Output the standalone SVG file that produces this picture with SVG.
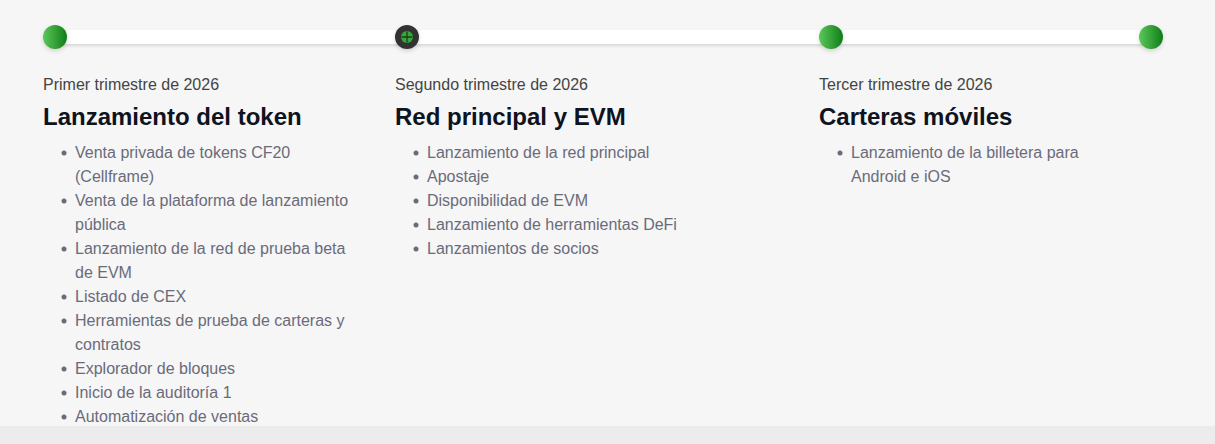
<svg xmlns="http://www.w3.org/2000/svg" width="1215" height="444" viewBox="0 0 1215 444">
<defs>
<linearGradient id="g" x1="0" y1="0" x2="1" y2="0">
<stop offset="0" stop-color="#5ac85a"/>
<stop offset="1" stop-color="#117d17"/>
</linearGradient>
<filter id="sh" x="-5%" y="-50%" width="110%" height="250%">
<feDropShadow dx="0" dy="2" stdDeviation="1.5" flood-color="#000" flood-opacity="0.12"/>
</filter>
<filter id="csh" x="-50%" y="-50%" width="200%" height="200%">
<feDropShadow dx="0" dy="2" stdDeviation="2" flood-color="#000" flood-opacity="0.15"/>
</filter>
<style>
.sub{font-family:"Liberation Sans",Arial,sans-serif;font-size:16px;fill:#444}
.ttl{font-family:"Liberation Sans",Arial,sans-serif;font-size:24px;font-weight:bold;fill:#0e1320}
.it{font-family:"Liberation Sans",Arial,sans-serif;font-size:16px;fill:#6a6b7a}
.bul{fill:#6a6b7a}
</style>
</defs>
<rect width="1215" height="444" fill="#f6f6f6"/>
<rect y="426" width="1215" height="18" fill="#ececec"/>
<g id="connectors">
<rect x="55" y="30" width="1096" height="14" fill="#ffffff" filter="url(#sh)"/>
</g>
<g id="m1"><circle cx="55" cy="37" r="12" fill="url(#g)" filter="url(#csh)"/></g>
<g id="m2">
<circle cx="407" cy="37" r="12" fill="#333333" filter="url(#csh)"/>
<circle cx="407" cy="37" r="6" fill="#35a83a"/>
<path d="M407 31.5V42.5M401.5 37H412.5" stroke="#1d3d1f" stroke-width="1.3"/>
</g>
<g id="m3"><circle cx="831" cy="37" r="12" fill="url(#g)" filter="url(#csh)"/></g>
<g id="m4"><circle cx="1151" cy="37" r="12" fill="url(#g)" filter="url(#csh)"/></g>

<g id="col1">
<text class="sub" x="43" y="90">Primer trimestre de 2026</text>
<text class="ttl" x="43" y="125">Lanzamiento del token</text>
<g class="bul">
<circle cx="64" cy="153" r="2.5"/><circle cx="64" cy="201" r="2.5"/><circle cx="64" cy="249" r="2.5"/><circle cx="64" cy="297" r="2.5"/><circle cx="64" cy="321" r="2.5"/><circle cx="64" cy="369" r="2.5"/><circle cx="64" cy="393" r="2.5"/><circle cx="64" cy="417" r="2.5"/>
</g>
<text class="it" x="75" y="158">Venta privada de tokens CF20</text>
<text class="it" x="75" y="182">(Cellframe)</text>
<text class="it" x="75" y="206">Venta de la plataforma de lanzamiento</text>
<text class="it" x="75" y="230">pública</text>
<text class="it" x="75" y="254">Lanzamiento de la red de prueba beta</text>
<text class="it" x="75" y="278">de EVM</text>
<text class="it" x="75" y="302">Listado de CEX</text>
<text class="it" x="75" y="326">Herramientas de prueba de carteras y</text>
<text class="it" x="75" y="350">contratos</text>
<text class="it" x="75" y="374">Explorador de bloques</text>
<text class="it" x="75" y="398">Inicio de la auditoría 1</text>
<text class="it" x="75" y="422">Automatización de ventas</text>
</g>

<g id="col2">
<text class="sub" x="395" y="90">Segundo trimestre de 2026</text>
<text class="ttl" x="395" y="125">Red principal y EVM</text>
<g class="bul">
<circle cx="416" cy="153" r="2.5"/><circle cx="416" cy="177" r="2.5"/><circle cx="416" cy="201" r="2.5"/><circle cx="416" cy="225" r="2.5"/><circle cx="416" cy="249" r="2.5"/>
</g>
<text class="it" x="427" y="158">Lanzamiento de la red principal</text>
<text class="it" x="427" y="182">Apostaje</text>
<text class="it" x="427" y="206">Disponibilidad de EVM</text>
<text class="it" x="427" y="230">Lanzamiento de herramientas DeFi</text>
<text class="it" x="427" y="254">Lanzamientos de socios</text>
</g>

<g id="col3">
<text class="sub" x="819" y="90">Tercer trimestre de 2026</text>
<text class="ttl" x="819" y="125">Carteras móviles</text>
<circle class="bul" cx="840" cy="153" r="2.5"/>
<text class="it" x="851" y="158">Lanzamiento de la billetera para</text>
<text class="it" x="851" y="182">Android e iOS</text>
</g>
</svg>
